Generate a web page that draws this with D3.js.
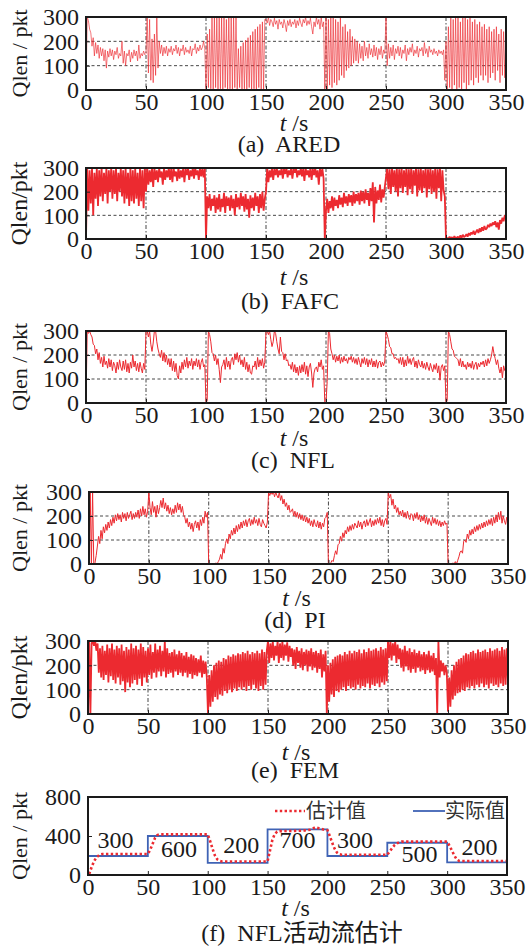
<!DOCTYPE html>
<html>
<head>
<meta charset="utf-8">
<script src="https://cdn.jsdelivr.net/npm/d3@7"></script>
<style>
  body { margin: 0; background: #fff; }
  svg text { font-family: "Liberation Serif", "Times New Roman", "Noto Sans CJK SC", serif; fill: #1a1a1a; }
</style>
</head>
<body>
<svg id="chart" width="529" height="948"></svg>
<script>
// sample times (s), one reading per second
var secs = d3.range(0, 351);

// queue length readings (pkt), t = 0..350
var aredQ = [
  0,300,285,250,235,180,215,140,195,150,
  185,130,175,140,170,120,165,90,160,135,
  170,140,165,125,160,145,175,130,150,140,
  200,110,160,100,150,140,165,115,155,130,
  165,140,160,120,185,130,150,140,160,145,
  150,300,70,290,40,210,30,230,60,300,
  90,200,150,185,140,175,150,180,140,170,
  155,180,145,170,160,185,150,175,140,170,
  160,185,145,175,155,165,150,180,140,170,
  165,190,150,175,160,185,165,175,200,170,
  0,230,10,250,5,300,0,300,10,300,
  0,300,5,300,0,300,10,290,0,300,
  5,300,0,300,10,300,0,170,10,180,
  0,195,5,205,0,215,10,225,0,240,
  5,250,0,260,10,270,0,280,0,290,
  290,275,300,265,290,280,260,295,270,285,
  250,290,270,280,255,290,270,240,285,265,
  290,260,280,270,290,255,285,265,295,275,
  260,290,275,300,265,285,270,295,260,230,
  280,260,300,270,290,250,300,260,280,0,
  300,0,290,20,300,10,300,30,290,20,
  280,40,300,60,260,50,270,80,240,90,
  250,100,220,110,210,120,200,110,190,130,
  180,120,200,140,175,130,190,145,170,135,
  185,140,175,125,170,145,180,130,165,150,
  300,100,190,130,175,140,185,125,170,150,
  180,140,175,130,165,150,185,120,170,145,
  175,155,190,140,165,150,180,135,170,160,
  175,140,195,150,170,135,180,155,165,145,
  170,150,160,140,165,150,160,145,165,40,
  200,0,260,10,300,0,290,20,300,0,
  300,10,280,0,300,30,300,0,290,20,
  300,40,280,20,290,50,270,30,280,60,
  260,40,270,60,250,30,260,50,240,70,
  250,40,260,80,230,30,250,60,240,50,
  250
];

var fafcQ = [
  0,300,120,290,150,300,100,280,170,300,
  140,290,180,300,160,280,190,300,150,290,
  200,300,170,290,190,300,160,280,200,300,
  180,290,150,300,170,280,140,300,160,290,
  150,300,170,280,140,300,160,290,130,300,
  200,300,230,290,240,300,220,300,250,290,
  240,300,260,285,230,300,250,290,260,300,
  250,295,240,300,265,285,245,300,255,290,
  260,300,240,295,270,300,250,290,265,300,
  255,300,270,290,250,300,265,295,260,300,
  0,180,130,190,120,170,140,185,110,175,
  125,190,115,170,135,195,110,180,140,175,
  120,185,130,170,100,190,135,175,125,195,
  140,180,115,190,125,170,90,185,130,175,
  120,195,140,180,110,190,130,200,120,170,
  200,300,240,290,260,300,250,295,270,300,
  260,290,270,300,255,295,275,300,260,290,
  270,300,255,295,280,300,260,290,270,300,
  265,295,245,300,270,290,260,300,250,295,
  270,300,260,290,230,300,265,295,255,0,
  120,170,110,160,130,180,120,175,140,165,
  130,185,145,175,135,195,150,180,140,190,
  155,185,140,200,150,190,160,195,145,205,
  160,200,150,210,165,195,140,215,160,240,
  70,220,150,205,165,230,155,210,175,220,
  260,300,210,295,190,300,220,290,200,300,
  180,295,215,300,195,290,220,300,185,295,
  210,300,190,290,225,300,180,295,205,300,
  195,290,215,300,175,295,210,300,190,290,
  200,300,170,295,215,300,160,290,205,180,
  0,5,0,10,2,8,0,12,3,6,
  10,2,15,5,18,8,12,20,10,25,
  15,28,20,35,18,30,40,25,45,30,
  50,35,55,40,45,60,50,65,55,70,
  60,75,50,70,40,80,65,90,75,100,
  95
];

var nflQ = [
  0,300,290,300,285,275,245,240,205,225,
  180,210,165,190,150,195,160,175,145,185,
  150,180,135,170,155,125,170,140,180,150,
  135,175,140,180,130,165,125,170,145,200,
  150,175,135,165,130,170,145,125,165,140,
  300,300,275,300,245,215,250,300,300,255,
  225,205,190,220,175,210,170,200,160,185,
  150,185,135,175,130,165,115,100,155,125,
  170,140,180,150,190,145,175,155,185,140,
  175,155,185,150,180,140,170,185,150,160,
  0,10,300,285,255,210,205,175,200,160,
  185,140,85,150,160,180,140,190,150,175,
  140,180,190,160,205,180,210,170,200,160,
  180,150,190,140,170,130,160,125,120,155,
  150,175,140,190,150,180,155,185,145,170,
  300,300,285,300,265,235,255,300,290,255,
  225,205,275,215,210,180,205,175,180,155,
  160,140,170,130,160,125,150,115,155,125,
  160,130,170,120,155,110,150,165,125,65,
  125,145,150,130,170,150,180,140,155,0,
  0,90,300,290,225,205,180,200,170,195,
  175,200,165,190,170,195,175,185,165,190,
  180,195,170,190,165,185,160,190,170,150,
  185,165,190,160,185,150,180,160,185,150,
  175,150,180,145,170,175,150,170,155,175,
  300,285,265,235,230,205,205,185,190,180,
  185,165,190,160,190,150,180,155,195,165,
  185,160,180,190,150,175,145,180,160,150,
  175,145,165,140,170,150,135,165,145,130,
  160,140,165,125,155,95,150,160,135,155,
  0,10,300,285,255,225,220,195,190,185,
  180,155,185,150,175,150,160,140,170,150,
  165,145,175,140,160,170,140,165,150,170,
  160,175,150,180,155,185,165,180,200,235,
  205,185,160,180,145,125,150,105,155,135,
  130
];

var piQ = [
  0,300,0,300,0,5,35,75,115,85,
  140,105,155,130,165,140,175,150,185,160,
  195,170,205,180,210,185,205,175,215,190,
  210,180,215,190,205,220,185,210,190,215,
  195,225,190,230,200,240,205,230,195,220,
  300,235,205,260,215,240,195,245,210,235,
  265,235,275,230,255,220,245,210,235,205,
  230,210,245,215,255,225,250,215,240,205,
  195,170,190,155,175,145,170,135,165,180,
  150,175,140,185,160,195,170,220,195,215,
  0,0,0,0,0,0,5,0,10,20,
  40,20,65,45,85,105,85,125,105,140,
  120,150,125,160,135,165,145,175,150,180,
  160,185,155,180,190,160,185,165,195,170,
  185,160,190,165,155,185,170,160,150,175,
  300,285,300,290,300,280,300,285,275,300,
  265,285,250,270,240,255,225,245,215,220,
  230,200,220,195,215,190,210,185,205,180,
  200,175,195,170,190,160,180,155,185,165,
  155,180,150,175,145,170,155,190,195,215,
  0,0,5,15,10,35,55,40,80,85,
  115,95,130,110,140,125,155,135,160,140,
  165,145,170,160,150,180,155,175,145,170,
  180,155,185,160,175,190,155,180,160,185,
  165,190,170,195,160,185,155,180,190,165,
  300,275,290,245,270,230,245,215,235,205,
  220,200,225,195,215,190,220,195,185,210,
  205,180,210,190,215,185,205,175,200,180,
  205,170,195,165,190,175,160,195,170,190,
  165,185,160,180,155,175,160,180,165,170,
  0,0,0,0,5,0,10,0,15,30,
  50,55,45,95,100,90,125,105,140,120,
  145,125,155,135,160,140,165,145,170,150,
  175,155,180,160,185,165,190,160,195,170,
  205,175,215,185,220,170,200,180,165,195,
  180
];

var femQ = [
  0,300,0,290,300,280,300,260,290,170,
  270,150,280,140,260,160,285,130,270,155,
  290,140,265,125,280,150,270,120,285,135,
  260,90,275,130,265,110,290,125,270,140,
  280,120,265,145,290,115,275,150,260,130,
  270,160,285,145,255,170,290,150,265,175,
  280,155,260,175,300,150,270,165,250,170,
  255,150,265,175,245,160,260,170,250,155,
  240,170,255,150,235,165,245,145,240,160,
  230,155,225,170,240,150,220,165,215,150,
  0,160,30,180,50,200,70,210,60,220,
  80,215,75,230,95,225,85,240,100,235,
  90,245,105,240,95,250,110,245,100,255,
  110,250,95,260,115,245,100,255,120,250,
  105,260,95,250,115,265,100,255,120,260,
  300,210,290,230,300,220,280,240,300,210,
  290,230,300,220,285,240,295,215,280,235,
  270,200,265,185,275,210,260,190,270,180,
  255,200,265,175,260,195,270,180,255,190,
  260,170,250,185,265,150,245,175,260,0,
  200,50,210,80,225,70,235,95,240,90,
  245,100,240,110,255,95,245,115,260,105,
  250,110,260,100,255,120,265,105,250,115,
  265,110,255,125,270,105,260,120,265,115,
  270,125,260,110,275,130,265,120,270,135,
  300,230,300,220,290,240,300,210,285,225,
  270,190,265,175,280,195,260,180,270,170,
  255,185,265,170,250,190,260,175,245,180,
  255,165,245,180,260,170,240,175,250,160,
  230,0,300,150,220,175,210,160,200,170,
  10,150,30,180,60,200,75,215,85,225,
  90,230,100,240,95,250,110,245,105,255,
  115,260,105,250,120,265,110,255,125,260,
  110,265,120,255,105,270,125,260,115,265,
  120,270,110,260,125,275,115,265,120,270,
  130
];

// panel (f): active flows, actual vs estimated queue
var stepT = [0, 50, 100, 150, 200, 250, 300, 350];
var actualQ = [195, 400, 125, 468, 195, 331, 130, 130];
var estT = [1, 3, 5, 7, 10, 12, 50, 52, 54, 56, 58, 60, 100, 102, 104, 106, 108, 110, 112, 150, 152, 154, 156, 158, 160,
  180, 186, 190, 194, 198, 200, 202, 204, 206, 208, 210, 212, 250, 252, 254, 256, 258, 260, 262, 300, 302, 304, 306, 308, 310, 312, 350];
var estQ = [10, 80, 140, 180, 210, 215, 215, 260, 320, 380, 410, 417, 417, 350, 270, 200, 160, 145, 139, 139, 250, 360, 420, 445, 450,
  455, 465, 490, 475, 462, 460, 400, 330, 270, 230, 212, 208, 208, 240, 275, 305, 325, 335, 342, 342, 300, 250, 200, 160, 145, 143, 143];
var flowCounts = ["300", "600", "200", "700", "300", "500", "200"];
var flowLabelT = [23, 76, 128, 175, 223, 277, 327];
var flowLabelQ = [275, 180, 225, 277, 277, 136, 205];

var xTicks = [0, 50, 100, 150, 200, 250, 300, 350];
var qTicks = [0, 100, 200, 300];
var fTicks = [0, 400, 800];
var captions = ["(a)  ARED", "(b)  FAFC", "(c)  NFL", "(d)  PI", "(e)  FEM", "(f)  NFL活动流估计"];

var RED = "#ec2a30", BLUE = "#3f63b5";

var svg = d3.select("#chart");

var panels = [
  { series: aredQ, lw: 0.65, left: 86, right: 506, top: 17,  bottom: 90,  tBase: 131, capBase: 152, capX: 289, yTitle: "Qlen / pkt" },
  { series: fafcQ, lw: 1.8, left: 86, right: 506, top: 168, bottom: 239, tBase: 285, capBase: 309, capX: 290, yTitle: "Qlen/pkt" },
  { series: nflQ,  lw: 1, left: 86, right: 506, top: 331, bottom: 403, tBase: 446, capBase: 468, capX: 293, yTitle: "Qlen / pkt" },
  { series: piQ,   lw: 1, left: 89, right: 508, top: 492, bottom: 564, tBase: 606, capBase: 628, capX: 295, yTitle: "Qlen / pkt" },
  { series: femQ,  lw: 1.8, left: 88, right: 508, top: 641, bottom: 714, tBase: 760, capBase: 778, capX: 295, yTitle: "Qlen/pkt" },
  { series: null,  lw: 1, left: 88, right: 507, top: 797, bottom: 875, tBase: 916, capBase: 941, capX: 302, yTitle: "Qlen / pkt" }
];

panels.forEach(function (p, k) {
  var isF = p.series === null;
  var x = d3.scaleLinear().domain([0, 350]).range([p.left, p.right]);
  var y = d3.scaleLinear().domain(isF ? [0, 800] : [0, 300]).range([p.bottom, p.top]);
  var yt = isF ? fTicks : qTicks;
  var g = svg.append("g");

  // clip
  var clipId = "clip" + k;
  svg.append("clipPath").attr("id", clipId)
    .append("rect")
    .attr("x", p.left).attr("y", p.top)
    .attr("width", p.right - p.left).attr("height", p.bottom - p.top);

  // grid
  if (!isF) {
    g.selectAll(".hg").data(yt.slice(1, -1)).enter().append("line")
      .attr("x1", p.left).attr("x2", p.right)
      .attr("y1", function (d) { return y(d); }).attr("y2", function (d) { return y(d); })
      .attr("stroke", "#333").attr("stroke-width", 0.9).attr("stroke-dasharray", "3,2.5");
    g.selectAll(".vg").data(xTicks.slice(1, -1)).enter().append("line")
      .attr("y1", p.top).attr("y2", p.bottom)
      .attr("x1", function (d) { return x(d); }).attr("x2", function (d) { return x(d); })
      .attr("stroke", "#333").attr("stroke-width", 0.9).attr("stroke-dasharray", "4,2,1.5,2");
  }

  var plot = g.append("g").attr("clip-path", "url(#" + clipId + ")");

  if (!isF) {
    var line = d3.line()
      .x(function (d, i) { return x(secs[i]); })
      .y(function (d) { return y(d); });
    plot.append("path").datum(p.series)
      .attr("d", line)
      .attr("fill", "none").attr("stroke", RED).attr("stroke-width", p.lw)
      .attr("stroke-linejoin", "bevel");
  } else {
    var step = d3.line()
      .x(function (d, i) { return x(stepT[i]); })
      .y(function (d) { return y(d); })
      .curve(d3.curveStepAfter);
    plot.append("path").datum(actualQ)
      .attr("d", step)
      .attr("fill", "none").attr("stroke", BLUE).attr("stroke-width", 1.8);
    var est = d3.line()
      .x(function (d, i) { return x(estT[i]); })
      .y(function (d) { return y(d); });
    plot.append("path").datum(estQ)
      .attr("d", est)
      .attr("fill", "none").attr("stroke", RED).attr("stroke-width", 2.6)
      .attr("stroke-dasharray", "2.4,2.4");

    g.selectAll(".flow").data(flowCounts).enter().append("text")
      .attr("x", function (d, i) { return x(flowLabelT[i]); })
      .attr("y", function (d, i) { return y(flowLabelQ[i]); })
      .attr("text-anchor", "middle")
      .attr("font-size", 24)
      .text(function (d) { return d; });

    // legend
    var lg = g.append("g");
    lg.append("line").attr("x1", 275).attr("x2", 305).attr("y1", 811).attr("y2", 811)
      .attr("stroke", RED).attr("stroke-width", 2.6).attr("stroke-dasharray", "2.4,2.4");
    lg.append("text").attr("x", 306).attr("y", 818).attr("font-size", 20)
      .style("fill", "#333").text("估计值");
    lg.append("line").attr("x1", 413).attr("x2", 445).attr("y1", 811).attr("y2", 811)
      .attr("stroke", BLUE).attr("stroke-width", 1.8);
    lg.append("text").attr("x", 445).attr("y", 818).attr("font-size", 20)
      .style("fill", "#333").text("实际值");
  }

  // axes
  var xAxis = d3.axisBottom(x).tickValues(xTicks).tickSize(-4).tickPadding(3).tickFormat(d3.format("d"));
  var yAxis = d3.axisLeft(y).tickValues(yt).tickSize(-4).tickPadding(7).tickFormat(d3.format("d"));
  var gx = g.append("g").attr("transform", "translate(0," + p.bottom + ")").call(xAxis);
  var gy = g.append("g").attr("transform", "translate(" + p.left + ",0)").call(yAxis);
  [gx, gy].forEach(function (a) {
    a.select(".domain").remove();
    a.selectAll(".tick line").attr("stroke", "#222");
    a.selectAll("text").attr("font-size", 24).style("fill", "#1a1a1a");
    a.attr("font-family", null);
  });

  // frame
  g.append("rect")
    .attr("x", p.left).attr("y", p.top)
    .attr("width", p.right - p.left).attr("height", p.bottom - p.top)
    .attr("fill", "none").attr("stroke", "#1a1a1a").attr("stroke-width", 2);

  // y title
  g.append("text")
    .attr("transform", "translate(27," + ((p.top + p.bottom) / 2) + ") rotate(-90)")
    .attr("text-anchor", "middle")
    .attr("font-size", p.yTitle.indexOf(" ") > 0 ? 22 : 24)
    .style("white-space", "pre")
    .text(p.yTitle);

  // x title
  var xt = g.append("text")
    .attr("x", (p.left + p.right) / 2 - 2).attr("y", p.tBase)
    .attr("text-anchor", "middle").attr("font-size", 24)
    .style("white-space", "pre");
  xt.append("tspan").attr("font-style", "italic").text("t");
  xt.append("tspan").text(" /s");

  // caption
  g.append("text")
    .attr("x", p.capX).attr("y", p.capBase)
    .attr("text-anchor", "middle").attr("font-size", 24)
    .style("white-space", "pre")
    .text(captions[k]);
});
</script>
</body>
</html>
